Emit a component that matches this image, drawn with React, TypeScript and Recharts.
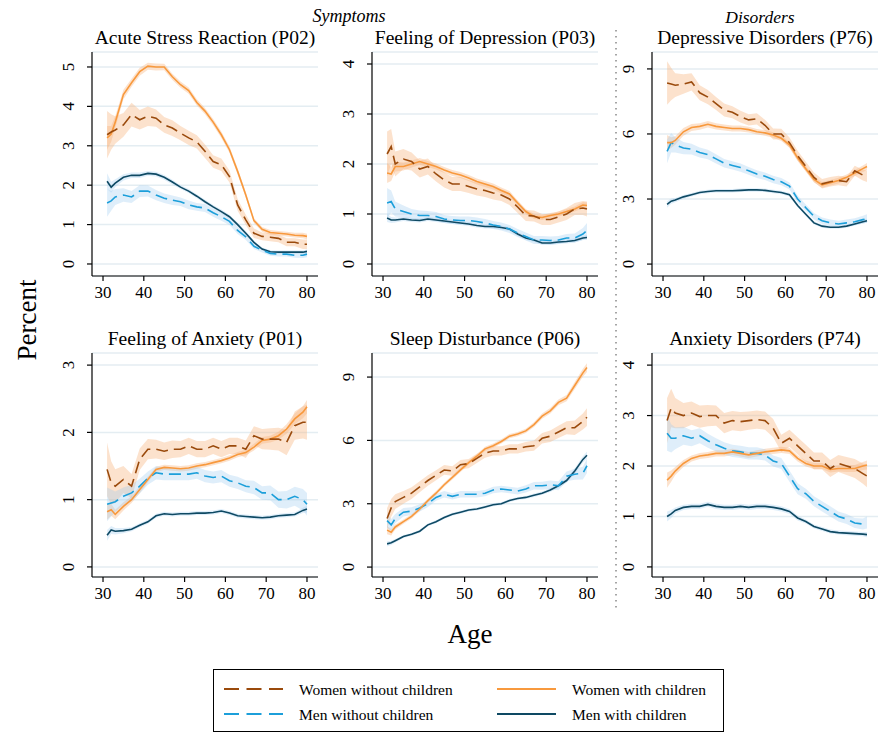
import React from 'react'
import { Area, CartesianGrid, ComposedChart, Line, XAxis, YAxis } from 'recharts'

// ages on the x axis (every other year, plus 32 and 80)
const ages = [31, 32, 33, 35, 37, 39, 41, 43, 45, 47, 49, 51, 53, 55, 57, 59, 61, 63, 65, 67, 69, 71, 73, 75, 77, 79, 80]
const xTicks = [30, 40, 50, 60, 70, 80]

// Acute Stress Reaction (P02)
const p02WomenNoKids = [3.28, 3.35, 3.4, 3.53, 3.79, 3.66, 3.75, 3.7, 3.53, 3.45, 3.32, 3.2, 3.1, 2.86, 2.6, 2.52, 2.22, 1.5, 1.12, 0.78, 0.7, 0.68, 0.65, 0.55, 0.55, 0.5, 0.5]
const p02WomenKids = [3.2, 3.3, 3.6, 4.3, 4.6, 4.88, 5.02, 5.0, 5.0, 4.75, 4.55, 4.4, 4.1, 3.88, 3.6, 3.28, 2.9, 2.35, 1.75, 1.1, 0.88, 0.8, 0.78, 0.76, 0.73, 0.72, 0.7]
const p02MenNoKids = [1.55, 1.6, 1.7, 1.75, 1.7, 1.85, 1.85, 1.75, 1.67, 1.62, 1.58, 1.5, 1.45, 1.42, 1.3, 1.2, 1.08, 0.85, 0.69, 0.45, 0.35, 0.27, 0.25, 0.25, 0.22, 0.22, 0.25]
const p02MenKids = [2.1, 1.95, 2.05, 2.2, 2.25, 2.25, 2.3, 2.28, 2.2, 2.08, 1.95, 1.85, 1.72, 1.58, 1.45, 1.33, 1.2, 1.0, 0.78, 0.55, 0.38, 0.31, 0.3, 0.3, 0.3, 0.3, 0.32]
const p02WomenNoKidsCI = [0.6, 0.45, 0.35, 0.3, 0.3, 0.25, 0.25, 0.22, 0.2, 0.2, 0.18, 0.18, 0.17, 0.17, 0.16, 0.16, 0.15, 0.15, 0.13, 0.12, 0.1, 0.1, 0.1, 0.1, 0.1, 0.12, 0.12]
const p02WomenKidsCI = [0.3, 0.2, 0.15, 0.12, 0.1, 0.1, 0.09, 0.09, 0.08, 0.08, 0.08, 0.08, 0.08, 0.08, 0.08, 0.08, 0.08, 0.08, 0.07, 0.06, 0.06, 0.06, 0.06, 0.06, 0.06, 0.07, 0.07]
const p02MenNoKidsCI = [0.35, 0.25, 0.2, 0.17, 0.15, 0.15, 0.14, 0.13, 0.12, 0.12, 0.11, 0.11, 0.1, 0.1, 0.1, 0.1, 0.09, 0.09, 0.08, 0.07, 0.06, 0.06, 0.06, 0.06, 0.06, 0.07, 0.08]
const p02MenKidsCI = [0.2, 0.14, 0.1, 0.08, 0.07, 0.07, 0.06, 0.06, 0.06, 0.06, 0.05, 0.05, 0.05, 0.05, 0.05, 0.05, 0.05, 0.05, 0.05, 0.04, 0.04, 0.04, 0.04, 0.04, 0.04, 0.04, 0.05]

// Feeling of Depression (P03)
const p03WomenNoKids = [2.2, 2.35, 2.0, 2.1, 2.05, 1.9, 1.95, 1.8, 1.68, 1.6, 1.6, 1.55, 1.5, 1.47, 1.42, 1.38, 1.3, 1.14, 0.97, 0.96, 0.89, 0.89, 0.94, 1.0, 1.1, 1.12, 1.1]
const p03WomenKids = [1.82, 1.8, 1.95, 1.95, 2.0, 2.05, 2.0, 1.95, 1.88, 1.82, 1.78, 1.72, 1.65, 1.6, 1.55, 1.47, 1.4, 1.22, 1.05, 0.95, 0.93, 0.97, 1.0, 1.05, 1.1, 1.18, 1.17]
const p03MenNoKids = [1.22, 1.25, 1.1, 1.05, 1.0, 0.97, 0.97, 0.95, 0.9, 0.88, 0.87, 0.87, 0.85, 0.82, 0.78, 0.75, 0.7, 0.62, 0.55, 0.48, 0.48, 0.47, 0.48, 0.52, 0.52, 0.6, 0.67]
const p03MenKids = [0.92, 0.88, 0.88, 0.9, 0.88, 0.87, 0.9, 0.88, 0.86, 0.84, 0.82, 0.8, 0.77, 0.75, 0.75, 0.73, 0.7, 0.6, 0.52, 0.48, 0.42, 0.42, 0.44, 0.45, 0.47, 0.52, 0.53]
const p03WomenNoKidsCI = [0.45, 0.35, 0.25, 0.2, 0.18, 0.17, 0.16, 0.15, 0.15, 0.14, 0.14, 0.13, 0.13, 0.13, 0.13, 0.12, 0.12, 0.12, 0.11, 0.11, 0.11, 0.11, 0.11, 0.12, 0.12, 0.14, 0.15]
const p03WomenKidsCI = [0.2, 0.14, 0.1, 0.08, 0.07, 0.07, 0.06, 0.06, 0.06, 0.06, 0.06, 0.06, 0.06, 0.06, 0.06, 0.06, 0.06, 0.05, 0.05, 0.05, 0.05, 0.05, 0.05, 0.05, 0.05, 0.06, 0.06]
const p03MenNoKidsCI = [0.3, 0.22, 0.15, 0.12, 0.1, 0.1, 0.09, 0.09, 0.08, 0.08, 0.08, 0.08, 0.08, 0.08, 0.08, 0.08, 0.08, 0.08, 0.08, 0.08, 0.08, 0.08, 0.08, 0.08, 0.09, 0.12, 0.15]
const p03MenKidsCI = [0.08, 0.06, 0.05, 0.04, 0.04, 0.04, 0.04, 0.04, 0.04, 0.04, 0.04, 0.04, 0.04, 0.04, 0.04, 0.04, 0.04, 0.04, 0.04, 0.04, 0.04, 0.04, 0.04, 0.04, 0.04, 0.04, 0.05]

// Depressive Disorders (P76)
const p76WomenNoKids = [8.35, 8.3, 8.25, 8.3, 8.4, 7.9, 7.7, 7.4, 7.1, 7.0, 6.8, 6.65, 6.7, 6.4, 6.0, 6.0, 5.6, 5.0, 4.5, 4.0, 3.7, 3.8, 3.85, 3.8, 4.3, 4.1, 4.05]
const p76WomenKids = [5.6, 5.6, 5.7, 6.1, 6.3, 6.35, 6.45, 6.35, 6.3, 6.25, 6.25, 6.2, 6.1, 6.05, 5.95, 5.8, 5.5, 4.9, 4.4, 3.9, 3.65, 3.75, 3.85, 4.0, 4.2, 4.4, 4.5]
const p76MenNoKids = [5.2, 5.6, 5.5, 5.35, 5.3, 5.15, 5.05, 4.85, 4.65, 4.55, 4.45, 4.3, 4.15, 4.05, 3.9, 3.8, 3.6, 3.0, 2.6, 2.2, 2.0, 1.9, 1.85, 1.9, 1.95, 2.05, 2.1]
const p76MenKids = [2.75, 2.9, 2.95, 3.1, 3.2, 3.3, 3.35, 3.38, 3.38, 3.38, 3.4, 3.42, 3.42, 3.4, 3.35, 3.3, 3.2, 2.7, 2.3, 1.9, 1.75, 1.7, 1.7, 1.75, 1.85, 1.95, 2.0]
const p76WomenNoKidsCI = [1.0, 0.75, 0.55, 0.45, 0.4, 0.35, 0.33, 0.3, 0.3, 0.28, 0.27, 0.26, 0.26, 0.25, 0.25, 0.24, 0.24, 0.23, 0.22, 0.22, 0.22, 0.22, 0.22, 0.22, 0.23, 0.25, 0.27]
const p76WomenKidsCI = [0.35, 0.25, 0.2, 0.18, 0.16, 0.15, 0.15, 0.14, 0.14, 0.14, 0.14, 0.13, 0.13, 0.13, 0.13, 0.13, 0.13, 0.13, 0.13, 0.13, 0.13, 0.13, 0.13, 0.13, 0.14, 0.15, 0.16]
const p76MenNoKidsCI = [0.55, 0.45, 0.35, 0.28, 0.25, 0.23, 0.22, 0.21, 0.2, 0.19, 0.19, 0.18, 0.18, 0.17, 0.17, 0.17, 0.16, 0.16, 0.15, 0.15, 0.15, 0.15, 0.15, 0.15, 0.16, 0.18, 0.2]
const p76MenKidsCI = [0.15, 0.12, 0.1, 0.09, 0.08, 0.08, 0.08, 0.08, 0.08, 0.08, 0.08, 0.08, 0.08, 0.08, 0.08, 0.08, 0.08, 0.08, 0.08, 0.07, 0.07, 0.07, 0.07, 0.07, 0.07, 0.08, 0.09]

// Feeling of Anxiety (P01)
const p01WomenNoKids = [1.45, 1.25, 1.2, 1.3, 1.2, 1.6, 1.75, 1.75, 1.72, 1.75, 1.75, 1.8, 1.75, 1.75, 1.8, 1.75, 1.8, 1.8, 1.75, 1.95, 1.9, 1.9, 1.9, 1.85, 2.1, 2.15, 2.15]
const p01WomenKids = [0.82, 0.85, 0.78, 0.9, 1.0, 1.15, 1.3, 1.45, 1.48, 1.47, 1.46, 1.47, 1.5, 1.52, 1.55, 1.58, 1.62, 1.67, 1.7, 1.78, 1.88, 1.9, 1.95, 2.05, 2.2, 2.3, 2.38]
const p01MenNoKids = [0.93, 0.95, 0.97, 1.05, 1.1, 1.2, 1.32, 1.4, 1.38, 1.38, 1.38, 1.38, 1.4, 1.35, 1.33, 1.35, 1.28, 1.25, 1.2, 1.18, 1.1, 1.1, 1.0, 1.0, 1.05, 1.0, 0.93]
const p01MenKids = [0.47, 0.55, 0.53, 0.54, 0.56, 0.62, 0.67, 0.76, 0.79, 0.78, 0.79, 0.79, 0.8, 0.8, 0.81, 0.83, 0.8, 0.76, 0.75, 0.74, 0.73, 0.74, 0.76, 0.77, 0.78, 0.84, 0.86]
const p01WomenNoKidsCI = [0.4, 0.32, 0.25, 0.2, 0.18, 0.16, 0.15, 0.14, 0.13, 0.13, 0.12, 0.12, 0.12, 0.12, 0.12, 0.12, 0.12, 0.12, 0.13, 0.14, 0.15, 0.16, 0.17, 0.19, 0.21, 0.24, 0.26]
const p01WomenKidsCI = [0.12, 0.09, 0.07, 0.06, 0.05, 0.05, 0.04, 0.04, 0.04, 0.04, 0.04, 0.04, 0.04, 0.04, 0.04, 0.04, 0.04, 0.04, 0.04, 0.05, 0.05, 0.05, 0.06, 0.07, 0.08, 0.09, 0.1]
const p01MenNoKidsCI = [0.25, 0.2, 0.15, 0.13, 0.12, 0.11, 0.1, 0.1, 0.09, 0.09, 0.09, 0.09, 0.09, 0.09, 0.09, 0.09, 0.09, 0.09, 0.09, 0.1, 0.1, 0.11, 0.12, 0.13, 0.14, 0.16, 0.17]
const p01MenKidsCI = [0.08, 0.06, 0.05, 0.04, 0.03, 0.03, 0.03, 0.03, 0.03, 0.03, 0.03, 0.03, 0.03, 0.03, 0.03, 0.03, 0.03, 0.03, 0.03, 0.03, 0.03, 0.03, 0.03, 0.03, 0.03, 0.04, 0.05]

// Sleep Disturbance (P06)
const p06WomenNoKids = [2.3, 2.8, 3.1, 3.3, 3.5, 3.8, 4.1, 4.35, 4.6, 4.55, 4.85, 4.9, 5.15, 5.4, 5.5, 5.5, 5.6, 5.6, 5.7, 5.75, 6.1, 6.2, 6.4, 6.6, 6.6, 6.9, 7.1]
const p06WomenKids = [1.75, 1.65, 1.9, 2.15, 2.4, 2.75, 3.15, 3.5, 3.9, 4.25, 4.6, 4.95, 5.25, 5.6, 5.75, 5.95, 6.2, 6.3, 6.45, 6.75, 7.15, 7.4, 7.8, 8.0, 8.6, 9.2, 9.45]
const p06MenNoKids = [2.2, 2.0, 2.3, 2.6, 2.65, 2.8, 3.0, 3.3, 3.45, 3.35, 3.45, 3.45, 3.45, 3.5, 3.65, 3.7, 3.65, 3.6, 3.7, 3.85, 3.85, 3.9, 3.85, 4.3, 4.4, 4.45, 4.8]
const p06MenKids = [1.1, 1.15, 1.25, 1.45, 1.55, 1.7, 2.0, 2.15, 2.35, 2.5, 2.6, 2.7, 2.75, 2.85, 2.95, 3.0, 3.15, 3.25, 3.3, 3.4, 3.5, 3.65, 3.85, 4.1, 4.55, 5.1, 5.3]
const p06WomenNoKidsCI = [0.5, 0.42, 0.35, 0.3, 0.28, 0.26, 0.25, 0.24, 0.23, 0.22, 0.22, 0.22, 0.22, 0.22, 0.22, 0.22, 0.22, 0.22, 0.23, 0.24, 0.25, 0.27, 0.29, 0.31, 0.34, 0.38, 0.42]
const p06WomenKidsCI = [0.2, 0.15, 0.12, 0.1, 0.1, 0.1, 0.1, 0.1, 0.1, 0.1, 0.1, 0.1, 0.1, 0.1, 0.1, 0.1, 0.1, 0.1, 0.1, 0.11, 0.12, 0.13, 0.14, 0.15, 0.17, 0.19, 0.21]
const p06MenNoKidsCI = [0.35, 0.28, 0.22, 0.2, 0.18, 0.17, 0.16, 0.16, 0.15, 0.15, 0.15, 0.15, 0.15, 0.15, 0.15, 0.15, 0.15, 0.16, 0.17, 0.18, 0.19, 0.2, 0.21, 0.23, 0.26, 0.3, 0.34]
const p06MenKidsCI = [0.12, 0.1, 0.08, 0.07, 0.07, 0.07, 0.07, 0.07, 0.07, 0.07, 0.07, 0.07, 0.07, 0.07, 0.07, 0.07, 0.07, 0.07, 0.07, 0.08, 0.08, 0.09, 0.1, 0.11, 0.13, 0.15, 0.17]

// Anxiety Disorders (P74)
const p74WomenNoKids = [2.9, 3.15, 3.05, 3.0, 3.05, 2.98, 3.0, 3.0, 2.85, 2.9, 2.88, 2.9, 2.92, 2.9, 2.75, 2.45, 2.55, 2.4, 2.25, 2.1, 2.1, 1.95, 2.05, 2.0, 1.95, 1.85, 1.8]
const p74WomenKids = [1.72, 1.8, 1.9, 2.05, 2.15, 2.2, 2.22, 2.25, 2.25, 2.28, 2.25, 2.22, 2.25, 2.28, 2.3, 2.32, 2.3, 2.15, 2.05, 2.0, 2.0, 1.93, 1.95, 1.95, 1.95, 2.0, 2.02]
const p74MenNoKids = [2.65, 2.55, 2.55, 2.6, 2.55, 2.6, 2.5, 2.42, 2.35, 2.3, 2.28, 2.25, 2.25, 2.22, 2.1, 2.05, 1.8, 1.55, 1.45, 1.3, 1.2, 1.1, 1.0, 0.95, 0.87, 0.85, 0.88]
const p74MenKids = [1.0, 1.05, 1.12, 1.18, 1.2, 1.2, 1.24, 1.2, 1.18, 1.18, 1.2, 1.18, 1.2, 1.2, 1.18, 1.15, 1.1, 0.97, 0.9, 0.8, 0.75, 0.7, 0.68, 0.67, 0.66, 0.65, 0.64]
const p74WomenNoKidsCI = [0.45, 0.38, 0.3, 0.25, 0.23, 0.22, 0.21, 0.2, 0.2, 0.19, 0.19, 0.18, 0.18, 0.18, 0.18, 0.17, 0.17, 0.17, 0.17, 0.17, 0.17, 0.17, 0.17, 0.18, 0.19, 0.2, 0.22]
const p74WomenKidsCI = [0.15, 0.11, 0.08, 0.07, 0.06, 0.06, 0.06, 0.06, 0.06, 0.06, 0.06, 0.06, 0.06, 0.06, 0.06, 0.06, 0.06, 0.06, 0.06, 0.06, 0.06, 0.06, 0.06, 0.07, 0.07, 0.08, 0.09]
const p74MenNoKidsCI = [0.35, 0.28, 0.22, 0.18, 0.16, 0.15, 0.14, 0.13, 0.12, 0.12, 0.12, 0.12, 0.12, 0.11, 0.11, 0.11, 0.11, 0.11, 0.1, 0.1, 0.1, 0.1, 0.1, 0.1, 0.1, 0.11, 0.12]
const p74MenKidsCI = [0.1, 0.08, 0.06, 0.05, 0.05, 0.05, 0.05, 0.05, 0.05, 0.05, 0.05, 0.05, 0.05, 0.05, 0.05, 0.05, 0.05, 0.05, 0.04, 0.04, 0.04, 0.04, 0.04, 0.04, 0.04, 0.04, 0.05]

const legendLabels = {
    wNo: 'Women without children',
    wYes: 'Women with children',
    mNo: 'Men without children',
    mYes: 'Men with children',
}

const FONT = "'Liberation Serif', 'Times New Roman', serif"
const COLORS = { wNo: '#9a4a0c', wYes: '#f8993d', mNo: '#1c9fda', mYes: '#0e4963' }
const BAND = { women: '#f7b27c', men: '#9ccbee' }
const DASH = '12 6'

const PLOT_W = 226
const PLOT_H = 224
const Y_AXIS_W = 60
const X_AXIS_H = 30
const TOP_PAD = 5

type Series = { wNo: number[]; wYes: number[]; mNo: number[]; mYes: number[] }

interface PanelProps {
    title: string
    left: number
    top: number
    domain: [number, number]
    yTicks: number[]
    values: Series
    ci: Series
}

function buildRows(values: Series, ci: Series) {
    return ages.map((age, i) => {
        const row: any = { age }
        for (const k of ['wNo', 'wYes', 'mNo', 'mYes'] as const) {
            const v = values[k][i]
            const h = ci[k][i] ?? 0
            row[k] = v
            row[k + 'Band'] = [v - h, v + h]
        }
        return row
    })
}

const YTick = ({ x, y, payload }: any) => (
    <text transform={`translate(${x - 11},${y}) rotate(-90)`} textAnchor="middle"
        fontSize={17} fontFamily={FONT} fill="#000">{payload.value}</text>
)

const XTick = ({ x, y, payload }: any) => (
    <text x={x} y={y + 15} textAnchor="middle" fontSize={17} fontFamily={FONT} fill="#000">{payload.value}</text>
)

function Panel({ left, top, domain, yTicks, values, ci }: PanelProps) {
    const rows = buildRows(values, ci)
    return (
        <div style={{ position: 'absolute', left: left - Y_AXIS_W, top: top - TOP_PAD }}>
            <ComposedChart width={Y_AXIS_W + PLOT_W + 2} height={TOP_PAD + PLOT_H + X_AXIS_H} data={rows}
                margin={{ top: TOP_PAD, right: 2, left: 0, bottom: 0 }}>
                <CartesianGrid vertical={false} stroke="#e4edf2" strokeWidth={1.5} />
                <XAxis dataKey="age" type="number" domain={[27.3, 82.7]} ticks={xTicks} allowDataOverflow
                    height={X_AXIS_H} tickSize={5} tick={<XTick />} stroke="#000" strokeWidth={1.2} />
                <YAxis type="number" domain={domain} ticks={yTicks} allowDataOverflow width={Y_AXIS_W}
                    tickSize={5} tickMargin={2} tick={<YTick />} stroke="#000" strokeWidth={1.2} />
                <Area dataKey="wNoBand" type="linear" stroke="none" fill={BAND.women} fillOpacity={0.38} isAnimationActive={false} activeDot={false} />
                <Area dataKey="wYesBand" type="linear" stroke="none" fill={BAND.women} fillOpacity={0.38} isAnimationActive={false} activeDot={false} />
                <Area dataKey="mNoBand" type="linear" stroke="none" fill={BAND.men} fillOpacity={0.32} isAnimationActive={false} activeDot={false} />
                <Area dataKey="mYesBand" type="linear" stroke="none" fill={BAND.men} fillOpacity={0.32} isAnimationActive={false} activeDot={false} />
                <Line dataKey="mYes" type="linear" stroke={COLORS.mYes} strokeWidth={1.6} dot={false} isAnimationActive={false} />
                <Line dataKey="mNo" type="linear" stroke={COLORS.mNo} strokeWidth={1.6} strokeDasharray={DASH} dot={false} isAnimationActive={false} />
                <Line dataKey="wYes" type="linear" stroke={COLORS.wYes} strokeWidth={1.6} dot={false} isAnimationActive={false} />
                <Line dataKey="wNo" type="linear" stroke={COLORS.wNo} strokeWidth={1.6} strokeDasharray={DASH} dot={false} isAnimationActive={false} />
            </ComposedChart>
        </div>
    )
}

const panels: PanelProps[] = [
    {
        title: 'Acute Stress Reaction (P02)', left: 92, top: 52, domain: [-0.305, 5.38], yTicks: [0, 1, 2, 3, 4, 5],
        values: { wNo: p02WomenNoKids, wYes: p02WomenKids, mNo: p02MenNoKids, mYes: p02MenKids },
        ci: { wNo: p02WomenNoKidsCI, wYes: p02WomenKidsCI, mNo: p02MenNoKidsCI, mYes: p02MenKidsCI },
    },
    {
        title: 'Feeling of Depression (P03)', left: 372, top: 52, domain: [-0.24, 4.24], yTicks: [0, 1, 2, 3, 4],
        values: { wNo: p03WomenNoKids, wYes: p03WomenKids, mNo: p03MenNoKids, mYes: p03MenKids },
        ci: { wNo: p03WomenNoKidsCI, wYes: p03WomenKidsCI, mNo: p03MenNoKidsCI, mYes: p03MenKidsCI },
    },
    {
        title: 'Depressive Disorders (P76)', left: 652, top: 52, domain: [-0.55, 9.78], yTicks: [0, 3, 6, 9],
        values: { wNo: p76WomenNoKids, wYes: p76WomenKids, mNo: p76MenNoKids, mYes: p76MenKids },
        ci: { wNo: p76WomenNoKidsCI, wYes: p76WomenKidsCI, mNo: p76MenNoKidsCI, mYes: p76MenKidsCI },
    },
    {
        title: 'Feeling of Anxiety (P01)', left: 92, top: 353, domain: [-0.15, 3.18], yTicks: [0, 1, 2, 3],
        values: { wNo: p01WomenNoKids, wYes: p01WomenKids, mNo: p01MenNoKids, mYes: p01MenKids },
        ci: { wNo: p01WomenNoKidsCI, wYes: p01WomenKidsCI, mNo: p01MenNoKidsCI, mYes: p01MenKidsCI },
    },
    {
        title: 'Sleep Disturbance (P06)', left: 372, top: 353, domain: [-0.47, 10.14], yTicks: [0, 3, 6, 9],
        values: { wNo: p06WomenNoKids, wYes: p06WomenKids, mNo: p06MenNoKids, mYes: p06MenKids },
        ci: { wNo: p06WomenNoKidsCI, wYes: p06WomenKidsCI, mNo: p06MenNoKidsCI, mYes: p06MenKidsCI },
    },
    {
        title: 'Anxiety Disorders (P74)', left: 652, top: 353, domain: [-0.2, 4.24], yTicks: [0, 1, 2, 3, 4],
        values: { wNo: p74WomenNoKids, wYes: p74WomenKids, mNo: p74MenNoKids, mYes: p74MenKids },
        ci: { wNo: p74WomenNoKidsCI, wYes: p74WomenKidsCI, mNo: p74MenNoKidsCI, mYes: p74MenKidsCI },
    },
]

function LegendRow({ x, y, color, dashed, label }: { x: number; y: number; color: string; dashed: boolean; label: string }) {
    return (
        <g>
            <line x1={x} x2={x + 59} y1={y} y2={y} stroke={color} strokeWidth={2.2} strokeDasharray={dashed ? '15 7.5' : undefined} />
            <text x={x + 75} y={y} dominantBaseline="central" fontSize={15.5} fontFamily={FONT} fill="#000">{label}</text>
        </g>
    )
}

export default function App() {
    return (
        <div style={{ position: 'absolute', left: 0, top: 0, width: 880, height: 733, background: '#fff', overflow: 'hidden' }}>
            {panels.map(p => <Panel key={p.title} {...p} />)}
            <svg width={880} height={733} style={{ position: 'absolute', left: 0, top: 0, pointerEvents: 'none' }}>
                {panels.map(p => (
                    <text key={p.title} x={p.left + PLOT_W / 2} y={p.top - 8} textAnchor="middle"
                        fontSize={19.5} fontFamily={FONT} fill="#000">{p.title}</text>
                ))}
                <text x={349} y={22} textAnchor="middle" fontSize={18} fontStyle="italic" fontFamily={FONT}>Symptoms</text>
                <text x={760} y={23} textAnchor="middle" fontSize={17.5} fontStyle="italic" fontFamily={FONT}>Disorders</text>
                <line x1={616} x2={616} y1={30} y2={612} stroke="#888" strokeWidth={1.5} strokeDasharray="1.5 4.5" />
                <text transform="translate(36,320) rotate(-90)" textAnchor="middle" fontSize={27} fontFamily={FONT}>Percent</text>
                <text x={470} y={643} textAnchor="middle" fontSize={27} fontFamily={FONT}>Age</text>
                <rect x={213.5} y={669.5} width={510} height={62} fill="#fff" stroke="#000" strokeWidth={1} />
                <LegendRow x={224} y={689} color={COLORS.wNo} dashed label={legendLabels.wNo} />
                <LegendRow x={497} y={689} color={COLORS.wYes} dashed={false} label={legendLabels.wYes} />
                <LegendRow x={224} y={714} color={COLORS.mNo} dashed label={legendLabels.mNo} />
                <LegendRow x={497} y={714} color={COLORS.mYes} dashed={false} label={legendLabels.mYes} />
            </svg>
        </div>
    )
}
